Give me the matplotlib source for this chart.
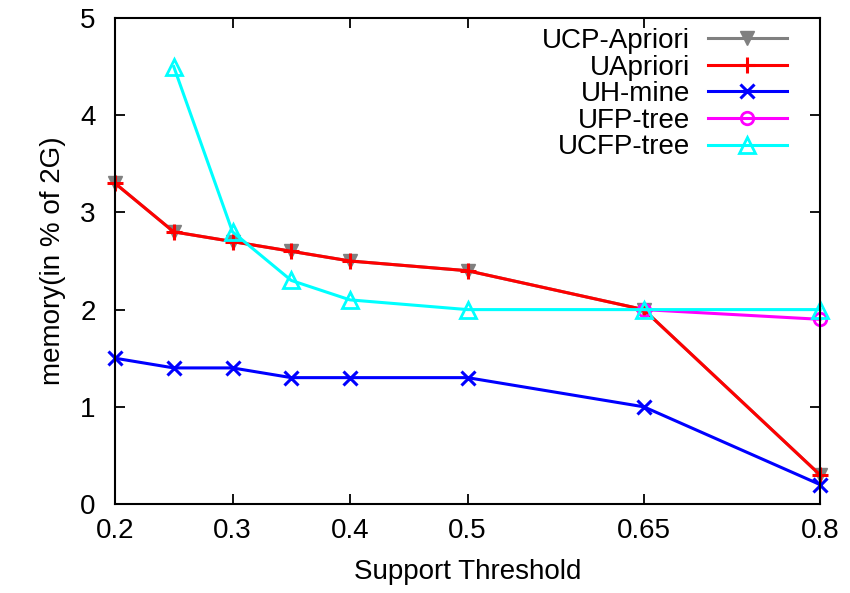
import matplotlib
matplotlib.use("Agg")
import matplotlib.pyplot as plt

plt.rcParams['font.family'] = ['Liberation Sans', 'DejaVu Sans']

support = [0.2, 0.25, 0.3, 0.35, 0.4, 0.5, 0.65, 0.8]
ucp_apriori = [3.3, 2.8, 2.7, 2.6, 2.5, 2.4, 2.0, 0.3]
uapriori = [3.3, 2.8, 2.7, 2.6, 2.5, 2.4, 2.0, 0.3]
uh_mine = [1.5, 1.4, 1.4, 1.3, 1.3, 1.3, 1.0, 0.2]
ufp_support = [0.65, 0.8]
ufp_tree = [2.0, 1.9]
ucfp_support = [0.25, 0.3, 0.35, 0.4, 0.5, 0.65, 0.8]
ucfp_tree = [4.5, 2.8, 2.3, 2.1, 2.0, 2.0, 2.0]

xticks = [0.2, 0.3, 0.4, 0.5, 0.65, 0.8]
xticklabels = ['0.2', '0.3', '0.4', '0.5', '0.65', '0.8']

fs = 20
fig = plt.figure(figsize=(8.5, 5.93), dpi=100)
ax = fig.add_axes([115/850, 1 - 504/593, (820-115)/850, (504-18)/593])

lw = 2.2
ax.plot(support, ucp_apriori, color='#808080', lw=lw, marker='v', ms=10,
        mfc='#808080', mec='#808080', label='UCP-Apriori', clip_on=False)
ax.plot(support, uapriori, color='#ff0000', lw=lw, marker='+', ms=12, mew=2.2,
        label='UApriori', clip_on=False)
ax.plot(support, uh_mine, color='#0000ff', lw=lw, marker='x', ms=10, mew=2.2,
        label='UH-mine', clip_on=False)
ax.plot(ufp_support, ufp_tree, color='#ff00ff', lw=lw, marker='o', ms=9, mew=2,
        mfc='none', label='UFP-tree', clip_on=False)
ax.plot(ucfp_support, ucfp_tree, color='#00ffff', lw=lw, marker='^', ms=11, mew=2,
        mfc='none', label='UCFP-tree', clip_on=False)

ax.set_xlim(0.2, 0.8)
ax.set_ylim(0, 5)
ax.set_xticks(xticks)
ax.set_xticklabels(xticklabels)
ax.set_yticks([0, 1, 2, 3, 4, 5])
ax.tick_params(direction='in', length=7, width=1.3, labelsize=fs,
               top=True, right=True)
ax.tick_params(axis='x', pad=10)
ax.tick_params(axis='y', pad=14)
for s in ax.spines.values():
    s.set_linewidth(1.5)

ax.set_xlabel('Support Threshold', fontsize=fs, labelpad=11)
ax.set_ylabel('memory(in % of 2G)', fontsize=fs, labelpad=10)

ax.legend(loc='upper right', bbox_to_anchor=(787/850, 1 - 28/593),
          bbox_transform=fig.transFigure, frameon=False, markerfirst=False,
          fontsize=fs, handlelength=2.85, handletextpad=0.65, labelspacing=0.02,
          borderpad=0, borderaxespad=0)

fig.savefig('out.png', dpi=100)
